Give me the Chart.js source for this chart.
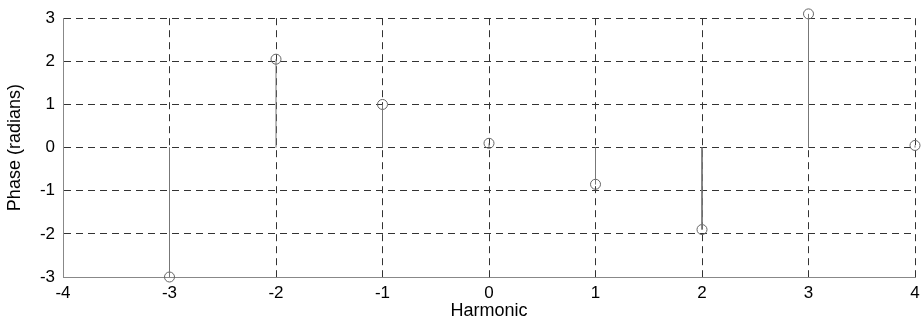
<!DOCTYPE html>
<html>
<head>
<meta charset="utf-8">
<script src="https://cdn.jsdelivr.net/npm/chart.js@4"></script>
<style>
  html, body { margin: 0; padding: 0; background: #fff; }
  #wrap { width: 921px; height: 325px; }
</style>
</head>
<body>
<div id="wrap"><canvas id="myChart" width="921" height="325"></canvas></div>
<script>
// harmonic number and phase
const harmonics = [-3, -2, -1, 0, 1, 2, 3, 4];
const phase = [-3.0, 2.05, 1.0, 0.1, -0.85, -1.9, 3.1, 0.05];

const xTicks = [-4, -3, -2, -1, 0, 1, 2, 3, 4];
const yTicks = [-3, -2, -1, 0, 1, 2, 3];

// stems: from 0 up/down to the value, with a gap between each one
const stems = [];
harmonics.forEach((h, i) => {
    stems.push({ x: h, y: 0 });
    stems.push({ x: h, y: phase[i] });
    stems.push({ x: h, y: null });
});

const font = "'Liberation Sans', Arial, sans-serif";
const grid = {
    color: '#333',
    lineWidth: 1,
    drawTicks: false
};

const ctx = document.getElementById('myChart');
new Chart(ctx.getContext('2d'), {
    type: 'scatter',
    data: {
        datasets: [{
            label: 'stem',
            data: stems,
            showLine: true,
            spanGaps: false,
            borderColor: '#777',
            borderWidth: 1,
            pointRadius: 0,
            clip: false
        }, {
            label: 'phase',
            data: harmonics.map((h, i) => ({ x: h, y: phase[i] })),
            showLine: false,
            pointRadius: 5,
            pointBorderWidth: 1,
            pointBorderColor: '#666',
            pointBackgroundColor: 'rgba(0,0,0,0)',
            clip: false
        }]
    },
    options: {
        responsive: false,
        animation: false,
        layout: { padding: { top: 15, right: 3, left: 0, bottom: 0 } },
        plugins: {
            legend: { display: false },
            tooltip: { enabled: false }
        },
        scales: {
            x: {
                type: 'linear',
                min: -4,
                max: 4,
                afterBuildTicks: scale => { scale.ticks = xTicks.map(v => ({ value: v })); },
                afterFit: scale => {
                    scale.height = 48;
                    scale.paddingRight = 0;
                    scale.paddingLeft = 0;
                },
                grid: grid,
                border: { display: true, color: '#888', dash: [7, 5] },
                ticks: {
                    color: '#000',
                    padding: 6,
                    maxRotation: 0,
                    font: { family: font, size: 17 }
                },
                title: {
                    display: true,
                    text: 'Harmonic',
                    color: '#000',
                    padding: { top: 0, bottom: 3 },
                    font: { family: font, size: 18 }
                }
            },
            y: {
                type: 'linear',
                min: -3,
                max: 3,
                afterBuildTicks: scale => { scale.ticks = yTicks.map(v => ({ value: v })); },
                afterFit: scale => { scale.width = 63; },
                grid: grid,
                border: { display: true, color: '#888', dash: [7, 5] },
                ticks: {
                    color: '#000',
                    padding: 8,
                    font: { family: font, size: 17 }
                },
                title: {
                    display: true,
                    text: 'Phase (radians)',
                    color: '#000',
                    padding: { top: 4, bottom: 0 },
                    font: { family: font, size: 18 }
                }
            }
        }
    },
    plugins: [{
        id: 'dashGrid',
        beforeDraw(chart) {
            ['x', 'y'].forEach(id => {
                chart.options.scales[id].grid.borderDash = [7, 5];
            });
        }
    }]
});
</script>
</body>
</html>
